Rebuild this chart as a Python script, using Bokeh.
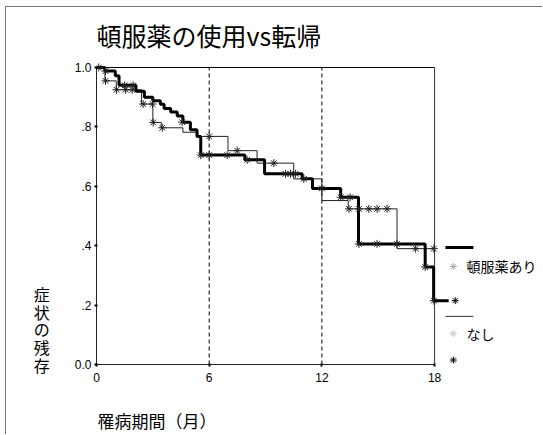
from bokeh.plotting import figure
from bokeh.models import Range1d, FixedTicker, CustomJSTickFormatter, Title
from bokeh.core.properties import value
from bokeh.embed import file_html
from bokeh.resources import INLINE

# Kaplan-Meier estimates: time (months) at which each step starts, and survival level
time_yes = [0, 0.45, 1.0, 1.2, 2.1, 2.55, 3.0, 3.4, 3.6, 3.95, 4.3, 4.6, 5.0, 5.35, 5.55,
            7.9, 8.95, 10.95, 11.5, 13.0, 13.95, 17.5, 17.95, 18.0]
surv_yes = [1.0, 0.988, 0.972, 0.94, 0.92, 0.90, 0.888, 0.876, 0.862, 0.85, 0.837, 0.816, 0.79,
            0.768, 0.705, 0.689, 0.642, 0.625, 0.593, 0.563, 0.406, 0.328, 0.215, 0.215]

time_no = [0, 0.45, 1.05, 2.4, 3.0, 3.45, 4.6, 5.4, 7.0, 8.55, 10.5, 12.0, 13.4, 16.0, 18.0]
surv_no = [1.0, 0.955, 0.925, 0.877, 0.815, 0.797, 0.782, 0.768, 0.72, 0.678, 0.625, 0.552,
           0.524, 0.39, 0.39]

# censored observations
cens_yes_t = [0.12, 0.48, 1.5, 1.95, 4.56, 5.55, 6.0, 6.96, 8.02, 10.06, 10.33, 10.6, 11.04,
              12.0, 13.0, 13.5, 13.97, 14.94, 16.0, 17.5, 17.96]
cens_yes_s = [1.0, 0.988, 0.94, 0.94, 0.816, 0.705, 0.705, 0.705, 0.689, 0.642, 0.642, 0.642,
              0.625, 0.593, 0.563, 0.563, 0.406, 0.406, 0.406, 0.328, 0.215]

cens_no_t = [0.48, 1.06, 1.55, 1.9, 2.48, 2.98, 3.02, 3.5, 6.0, 7.49, 9.44, 13.44, 13.97,
             14.5, 14.94, 15.47, 16.99, 17.96]
cens_no_s = [0.955, 0.925, 0.925, 0.925, 0.877, 0.877, 0.815, 0.797, 0.768, 0.72, 0.678,
             0.524, 0.524, 0.524, 0.524, 0.524, 0.39, 0.39]

x_ticks = [0, 6, 12, 18]
y_ticks = [0.0, 0.2, 0.4, 0.6, 0.8, 1.0]
ref_months = [6, 12]
group_labels = ["頓服薬あり", "なし"]

title_text = "頓服薬の使用vs転帰"
y_title = "症状の残存"
x_title = "罹病期間（月）"

JP = "Noto Sans CJK JP"
X_MAX = 18

# the frame reaches the top and right edges of the canvas; the plot box itself
# (0..18 months, 0..1) is drawn explicitly inside it
p = figure(width=537, height=428,
           x_range=Range1d(0, 23.8), y_range=Range1d(0, 1.202),
           output_backend="svg", toolbar_location=None,
           min_border_left=90, min_border_right=0, min_border_top=0, min_border_bottom=71,
           outline_line_color=None, background_fill_color="white", border_fill_color="white")
p.margin = (6, 0, 0, 5)
p.styles = {"border-left": "1px solid #777", "border-top": "1px solid #777"}
p.grid.visible = False

# axes
for ax in (p.xaxis, p.yaxis):
    ax.axis_line_color = "#222"
    ax.axis_line_width = 1
    ax.major_tick_line_color = "black"
    ax.major_tick_line_width = 2
    ax.major_tick_in = 1
    ax.major_tick_out = 2
    ax.minor_tick_line_color = None
    ax.major_label_text_font = "Liberation Sans"
    ax.major_label_text_font_size = "12px"
    ax.major_label_text_color = "black"

p.xaxis.ticker = FixedTicker(ticks=x_ticks)
p.xaxis.bounds = (0, X_MAX)
p.xaxis.major_label_standoff = 6

p.yaxis.ticker = FixedTicker(ticks=y_ticks)
p.yaxis.bounds = (0, 1)
p.yaxis.major_label_standoff = 3
p.yaxis.formatter = CustomJSTickFormatter(code="""
    if (tick === 0) return '0.0';
    if (tick >= 1) return '1.0';
    return tick.toFixed(1).replace(/^0/, '');
""")
# y caption: upright characters stacked vertically, sitting above the axis start
p.yaxis.axis_label = "\n".join(y_title) + "\n" * 4
p.yaxis.axis_label_align = "start"
p.yaxis.axis_label_orientation = "horizontal"
p.yaxis.axis_label_text_line_height = 0.73
p.yaxis.axis_label_standoff = 22
p.yaxis.axis_label_text_font = JP
p.yaxis.axis_label_text_font_size = "16px"
p.yaxis.axis_label_text_font_style = "normal"
p.yaxis.axis_label_text_color = "black"

# x caption, left aligned below the tick labels
p.add_layout(Title(text="\n" + x_title, align="left", offset=1, standoff=4,
                   text_line_height=0.75, text_font=JP, text_font_size="17px",
                   text_font_style="normal", text_color="black"), "below")

# main title
p.text(x=[0], y=[1.108], text=[title_text], text_font=value(JP),
       text_font_size="25px", text_color="black",
       text_align="left", text_baseline="middle")

# plot box (top and right edges) and reference lines
p.segment(x0=[0], y0=[1], x1=[X_MAX], y1=[1], line_color="black", line_width=1)
p.segment(x0=[X_MAX], y0=[0], x1=[X_MAX], y1=[1], line_color="#333", line_width=1)
p.segment(x0=ref_months, y0=0, x1=ref_months, y1=1, line_color="black", line_width=1,
          line_dash="4 3")

# survival curves
p.step(time_no, surv_no, mode="after", line_color="#222", line_width=1)
p.step(time_yes, surv_yes, mode="after", line_color="black", line_width=3)
p.scatter(cens_no_t, cens_no_s, marker="asterisk", size=8, line_color="#222", line_width=1)
p.scatter(cens_yes_t, cens_yes_s, marker="asterisk", size=8, line_color="#222", line_width=1)

# legend column to the right of the plot box
lx0, lx1, lmark, ltext = 18.58, 20.07, 19.0, 19.7
rows_y = [0.394, 0.33, 0.215, 0.162, 0.104, 0.015]
p.segment(x0=[lx0], y0=[rows_y[0]], x1=[lx1], y1=[rows_y[0]], line_color="black", line_width=3)
p.scatter([lmark], [rows_y[1]], marker="asterisk", size=7, line_color="#aaa", line_width=1)
p.segment(x0=[X_MAX], y0=[rows_y[2]], x1=[18.75], y1=[rows_y[2]], line_color="black", line_width=3)
p.scatter([19.1], [rows_y[2]], marker="asterisk", size=7, line_color="black", line_width=1)
p.segment(x0=[lx0], y0=[rows_y[3]], x1=[lx1], y1=[rows_y[3]], line_color="#333", line_width=1)
p.scatter([lmark], [rows_y[4]], marker="asterisk", size=7, line_color="#ccc", line_width=1)
p.scatter([lmark], [rows_y[5]], marker="asterisk", size=7, line_color="black", line_width=1)
p.text(x=[ltext, ltext], y=[rows_y[1], rows_y[4]], text=group_labels,
       text_font=value(JP), text_font_size="14px", text_color="black",
       text_align="left", text_baseline="middle")

open("out.html", "w").write(file_html(p, INLINE))
